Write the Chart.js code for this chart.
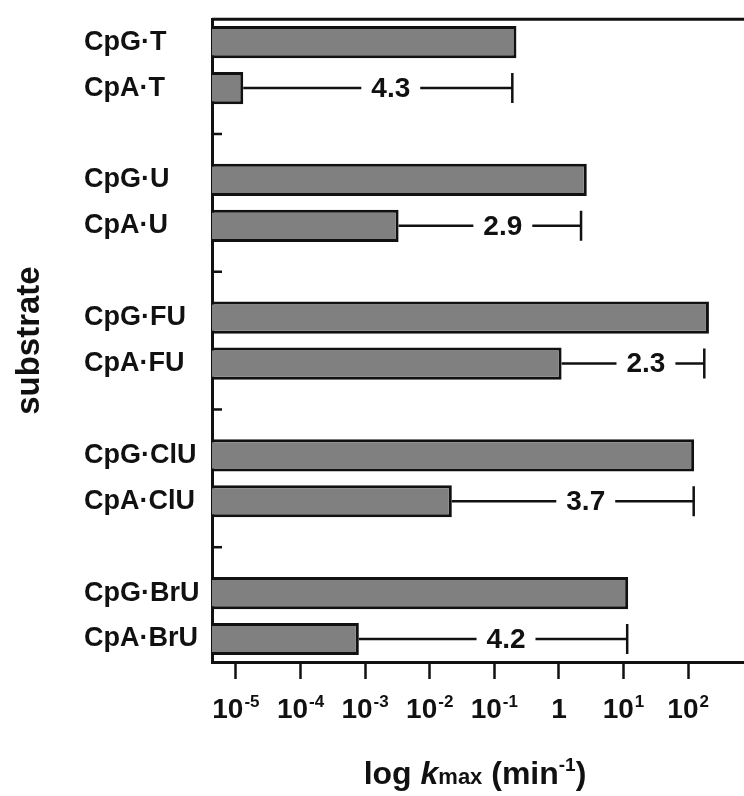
<!DOCTYPE html>
<html>
<head>
<meta charset="utf-8">
<script src="https://cdn.jsdelivr.net/npm/chart.js@4/dist/chart.umd.min.js"></script>
<style>
  html, body { margin: 0; padding: 0; background: #fff; }
</style>
</head>
<body>
<canvas id="myChart" width="744" height="796"></canvas>
<script>
// rows top to bottom, '' is the empty row between the pairs
var substrates = ['CpG·T', 'CpA·T', '', 'CpG·U', 'CpA·U', '', 'CpG·FU', 'CpA·FU', '', 'CpG·ClU', 'CpA·ClU', '', 'CpG·BrU', 'CpA·BrU'];
// kmax (min-1)
var kmax = [0.22, 1.3e-5, null, 2.7, 0.0033, null, 210, 1.1, null, 124, 0.022, null, 11.8, 8.0e-4];
// brackets from the CpA bar to the CpG value, with the printed log difference
var ratioRows = [1, 4, 7, 10, 13];
var ratioEnds = [0.19, 2.2, 178, 122, 11.4];
var ratioLabels = ['4.3', '2.9', '2.3', '3.7', '4.2'];
// x axis ticks
var tickValues = [1e-5, 1e-4, 1e-3, 1e-2, 1e-1, 1, 10, 100];
var tickBase = ['10', '10', '10', '10', '10', '1', '10', '10'];
var tickExp = ['-5', '-4', '-3', '-2', '-1', '', '1', '2'];

var FONT = '"Liberation Sans", Arial, Helvetica, sans-serif';
var INK = '#111';

var extras = {
    id: 'extras',
    afterDatasetsDraw: function(chart) {
        var ctx = chart.ctx;
        var x = chart.scales.x, y = chart.scales.y, a = chart.chartArea;
        ctx.save();
        ctx.strokeStyle = INK;
        ctx.fillStyle = INK;

        // top frame line
        ctx.lineWidth = 3;
        ctx.beginPath();
        ctx.moveTo(a.left, a.top);
        ctx.lineTo(a.right, a.top);
        ctx.stroke();

        // short inner ticks on the empty rows
        ctx.lineWidth = 2.5;
        substrates.forEach(function(s, i) {
            if (s !== '') return;
            var py = y.getPixelForValue(i);
            ctx.beginPath();
            ctx.moveTo(a.left, py);
            ctx.lineTo(a.left + 10, py);
            ctx.stroke();
        });

        // brackets with the log difference
        ctx.font = 'bold 28px ' + FONT;
        ctx.textAlign = 'center';
        ctx.textBaseline = 'middle';
        ctx.lineWidth = 2.5;
        ratioRows.forEach(function(r, k) {
            var py = y.getPixelForValue(r);
            var x0 = x.getPixelForValue(kmax[r]);
            var x1 = x.getPixelForValue(ratioEnds[k]);
            var xm = (x0 + x1) / 2 + 13;
            var half = ctx.measureText(ratioLabels[k]).width / 2 + 10;
            ctx.beginPath();
            ctx.moveTo(x0, py);
            ctx.lineTo(xm - half, py);
            ctx.moveTo(xm + half, py);
            ctx.lineTo(x1, py);
            ctx.moveTo(x1, py - 15);
            ctx.lineTo(x1, py + 15);
            ctx.stroke();
            ctx.fillText(ratioLabels[k], xm, py + 1);
        });
        ctx.restore();
    },
    afterDraw: function(chart) {
        var ctx = chart.ctx;
        var x = chart.scales.x, a = chart.chartArea;
        ctx.save();
        ctx.fillStyle = INK;
        ctx.textAlign = 'left';
        ctx.textBaseline = 'alphabetic';

        // tick labels with superscript exponents
        tickValues.forEach(function(v, i) {
            var px = x.getPixelForValue(v);
            ctx.font = 'bold 28px ' + FONT;
            var w1 = ctx.measureText(tickBase[i]).width;
            ctx.font = 'bold 17px ' + FONT;
            var w2 = tickExp[i] ? ctx.measureText(tickExp[i]).width + 1 : 0;
            var left = px - (w1 + w2) / 2;
            ctx.font = 'bold 28px ' + FONT;
            ctx.fillText(tickBase[i], left, 718);
            if (tickExp[i]) {
                ctx.font = 'bold 17px ' + FONT;
                ctx.fillText(tickExp[i], left + w1 + 1, 707);
            }
        });

        // x title: log kmax (min-1)
        var parts = [
            ['log ', 'bold 32px ' + FONT, 0],
            ['k', 'italic bold 32px ' + FONT, 0],
            ['max', 'bold 22px ' + FONT, 0],
            [' (min', 'bold 32px ' + FONT, 0],
            ['-1', 'bold 19px ' + FONT, -13],
            [')', 'bold 32px ' + FONT, 0]
        ];
        var total = 0;
        parts.forEach(function(p) { ctx.font = p[1]; total += ctx.measureText(p[0]).width; });
        var cx = (a.left + a.right) / 2 - total / 2 - 3;
        parts.forEach(function(p) {
            ctx.font = p[1];
            ctx.fillText(p[0], cx, 784 + p[2]);
            cx += ctx.measureText(p[0]).width;
        });

        // y title
        ctx.translate(30, (a.top + a.bottom) / 2);
        ctx.rotate(-Math.PI / 2);
        ctx.textAlign = 'center';
        ctx.textBaseline = 'middle';
        ctx.font = 'bold 33px ' + FONT;
        ctx.fillText('substrate', 0, 0);
        ctx.restore();
    }
};

var ctx = document.getElementById('myChart');
var myChart = new Chart(ctx, {
    type: 'bar',
    data: {
        labels: substrates,
        datasets: [{
            label: 'kmax',
            data: kmax,
            backgroundColor: '#808080',
            borderColor: INK,
            borderWidth: 3,
            barPercentage: 0.7,
            categoryPercentage: 1
        }]
    },
    options: {
        indexAxis: 'y',
        responsive: false,
        animation: false,
        devicePixelRatio: 1,
        layout: { padding: { left: 84, top: 14, right: 0, bottom: 0 } },
        plugins: { legend: { display: false }, tooltip: { enabled: false } },
        scales: {
            x: {
                type: 'logarithmic',
                position: 'bottom',
                min: Math.pow(10, -5.37),
                max: Math.pow(10, 2.865),
                afterBuildTicks: function(s) {
                    s.ticks = tickValues.map(function(v) { return { value: v }; });
                },
                afterFit: function(s) { s.height = 134; },
                ticks: { display: false },
                grid: {
                    drawOnChartArea: false,
                    drawTicks: true,
                    tickLength: 17,
                    tickWidth: 2.5,
                    tickColor: INK,
                    color: INK
                },
                border: { display: true, color: INK, width: 3 }
            },
            y: {
                type: 'category',
                afterFit: function(s) { s.width = 128; },
                ticks: {
                    crossAlign: 'far',
                    color: INK,
                    autoSkip: false,
                    font: { family: FONT, size: 27, weight: 'bold' }
                },
                grid: { drawOnChartArea: false, drawTicks: false, color: 'rgba(0,0,0,0)' },
                border: { display: true, color: INK, width: 3 }
            }
        }
    },
    plugins: [extras]
});
</script>
</body>
</html>
